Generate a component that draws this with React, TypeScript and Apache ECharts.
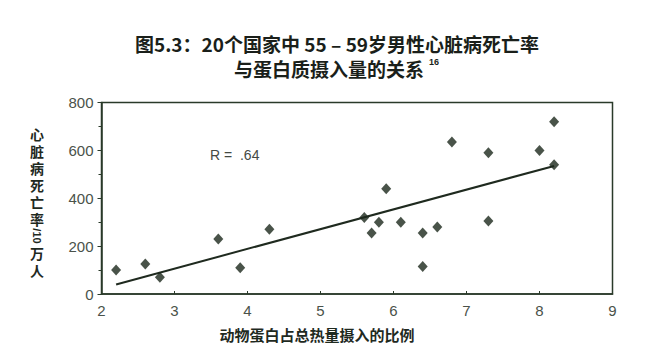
import React, { useEffect, useRef } from "react";
import * as echarts from "echarts";

const xValues = [2.2, 2.6, 2.8, 3.6, 3.9, 4.3, 5.6, 5.7, 5.8, 5.9, 6.1, 6.4, 6.4, 6.6, 6.8, 7.3, 7.3, 8.0, 8.2, 8.2];
const yValues = [100, 125, 70, 230, 110, 270, 320, 255, 300, 440, 300, 255, 115, 280, 635, 590, 305, 600, 720, 540];
const fitLine = [
  [2.2, 40],
  [8.2, 535],
];
const xTicks = [2, 3, 4, 5, 6, 7, 8, 9];
const yTicks = [0, 200, 400, 600, 800];

const titleLine1 = "图5.3：20个国家中 55 – 59岁男性心脏病死亡率";
const titleLine2 = "与蛋白质摄入量的关系";
const titleSup = "16";
const xName = "动物蛋白占总热量摄入的比例";
const yNameTop = ["心", "脏", "病", "死", "亡", "率"];
const yNameMid = "/10";
const yNameBottom = ["万", "人"];
const rLabel = "R =  .64";

const ink = "#1f2a1f";
const tickColor = "#4a524a";
const cjkFont = "'Noto Sans CJK SC', 'Noto Sans', sans-serif";
const latinFont = "'Liberation Sans', Arial, sans-serif";

export default function App() {
  const ref = useRef<HTMLDivElement>(null);
  useEffect(() => {
    if (!ref.current) return;
    const chart = echarts.init(ref.current, null, { renderer: "svg" });
    const points = xValues.map((x, i) => [x, yValues[i]]);
    const charText = (ch: string, y: number) => ({
      type: "text",
      x: 37,
      y,
      style: {
        text: ch,
        fill: ink,
        font: `bold 14px ${cjkFont}`,
        textAlign: "center",
        textVerticalAlign: "middle",
      },
    });
    const yNameTopY = [134, 151, 168, 185, 202, 219];
    const yNameBottomY = [253, 270];
    chart.setOption({
      animation: false,
      backgroundColor: "#ffffff",
      grid: {
        left: 101.5,
        top: 102.5,
        width: 511,
        height: 191.5,
        show: true,
        borderColor: "#2a3a2a",
        borderWidth: 1.5,
        backgroundColor: "transparent",
      },
      xAxis: {
        type: "value",
        min: xTicks[0],
        max: xTicks[xTicks.length - 1],
        interval: 1,
        axisLine: { show: true, lineStyle: { color: "#2a3a2a", width: 1.5 } },
        axisTick: { show: true, inside: true, length: 3, lineStyle: { color: "#2a3a2a" } },
        splitLine: { show: false },
        axisLabel: { color: tickColor, fontSize: 15, fontFamily: latinFont, margin: 9 },
      },
      yAxis: {
        type: "value",
        min: yTicks[0],
        max: yTicks[yTicks.length - 1],
        interval: 200,
        axisLine: { show: true, lineStyle: { color: "#2a3a2a", width: 1.5 } },
        axisTick: { show: true, length: 4, lineStyle: { color: "#2a3a2a" } },
        minorTick: { show: true, splitNumber: 2, length: 3, lineStyle: { color: "#2a3a2a" } },
        splitLine: { show: false },
        axisLabel: { color: tickColor, fontSize: 15, fontFamily: latinFont, margin: 8 },
      },
      series: [
        {
          type: "line",
          data: fitLine,
          showSymbol: false,
          symbol: "none",
          lineStyle: { color: ink, width: 2 },
          z: 2,
        },
        {
          type: "scatter",
          data: points,
          symbol: "diamond",
          symbolSize: [10, 11],
          itemStyle: { color: "#1c281c" },
          z: 3,
        },
      ],
      graphic: [
        {
          type: "text",
          x: 337,
          y: 43,
          style: {
            text: titleLine1,
            fill: "#1a1f1a",
            font: `bold 19px ${cjkFont}`,
            textAlign: "center",
            textVerticalAlign: "middle",
          },
        },
        {
          type: "text",
          x: 329,
          y: 68,
          style: {
            text: titleLine2,
            fill: "#1a1f1a",
            font: `bold 19px ${cjkFont}`,
            textAlign: "center",
            textVerticalAlign: "middle",
          },
        },
        {
          type: "text",
          x: 429,
          y: 62,
          style: {
            text: titleSup,
            fill: "#1a1f1a",
            font: `bold 9px ${latinFont}`,
            textAlign: "left",
            textVerticalAlign: "middle",
          },
        },
        {
          type: "text",
          x: 210,
          y: 155,
          style: {
            text: rLabel,
            fill: "#444a44",
            font: `14px ${latinFont}`,
            textAlign: "left",
            textVerticalAlign: "middle",
          },
        },
        {
          type: "text",
          x: 317,
          y: 334,
          style: {
            text: xName,
            fill: ink,
            font: `bold 15px ${cjkFont}`,
            textAlign: "center",
            textVerticalAlign: "middle",
          },
        },
        ...yNameTop.map((ch, i) => charText(ch, yNameTopY[i])),
        {
          type: "text",
          x: 37,
          y: 236,
          rotation: -Math.PI / 2,
          style: {
            text: yNameMid,
            fill: ink,
            font: `bold 11px ${latinFont}`,
            textAlign: "center",
            textVerticalAlign: "middle",
          },
        },
        ...yNameBottom.map((ch, i) => charText(ch, yNameBottomY[i])),
      ],
    });
    return () => chart.dispose();
  }, []);
  return (
    <div
      ref={ref}
      style={{ position: "fixed", left: 0, top: 0, width: 646, height: 363, background: "#fff" }}
    />
  );
}
